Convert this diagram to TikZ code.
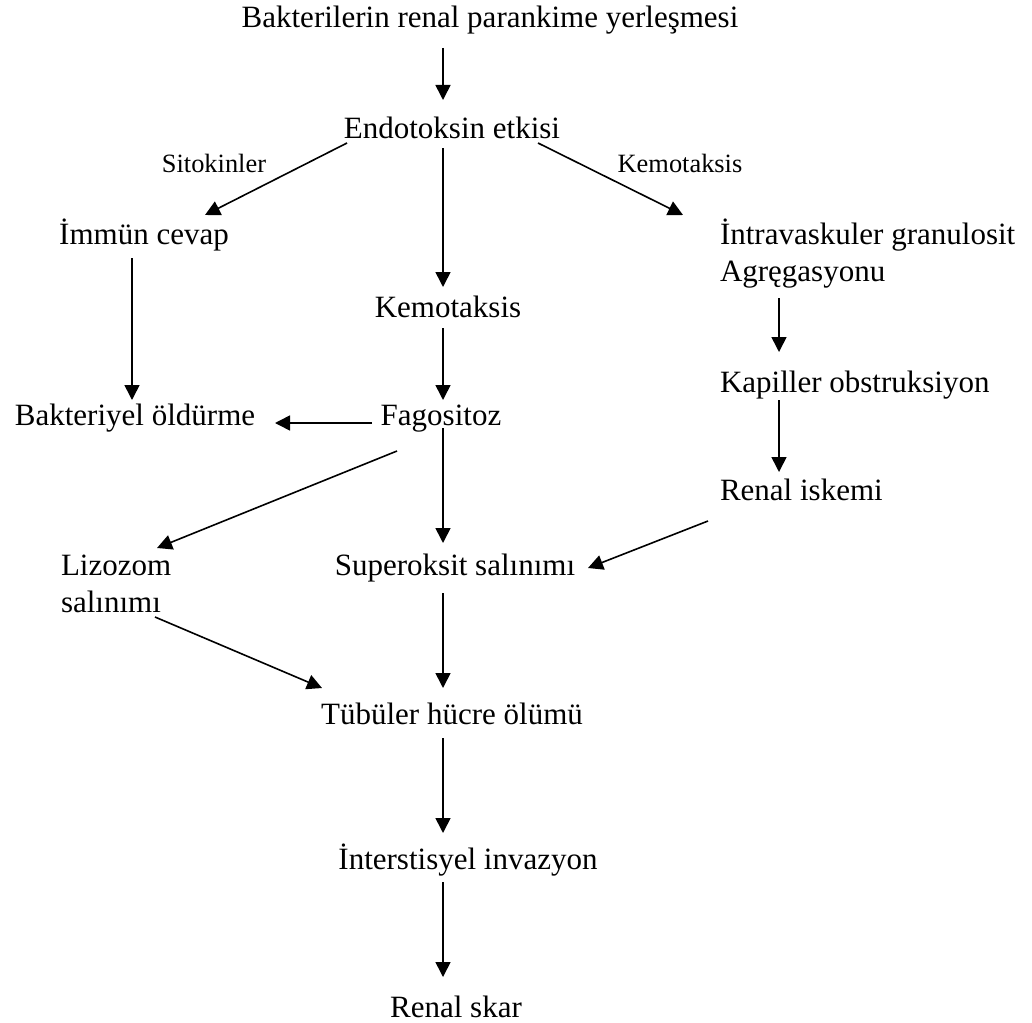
\documentclass[tikz,border=0pt]{standalone}
\usepackage{fontspec}
\setmainfont{Liberation Serif}
\usetikzlibrary{arrows.meta}
\newcommand\mainsize{\fontsize{31}{37.5}\selectfont}
\newcommand\lblsize{\fontsize{26.4}{31}\selectfont}
\tikzset{
  txt/.style={font=\mainsize, inner sep=0pt, outer sep=0pt, anchor=base},
  txtw/.style={txt, anchor=base west},
  lbl/.style={font=\lblsize, inner sep=0pt, outer sep=0pt, anchor=base},
  arr/.style={line width=1.6pt, -{Triangle[length=15pt,width=15pt]}}
}
\begin{document}
\begin{tikzpicture}[x=1pt,y=-1pt]
\useasboundingbox (0,0) rectangle (1032,1022);
% nodes
\node[txt]  (bak)   at (490,28)  {Bakterilerin renal parankime yerleşmesi};
\node[txt]  (endo)  at (452,138) {Endotoksin etkisi};
\node[lbl]  (sito)  at (214,172) {Sitokinler};
\node[lbl]  (kemol) at (680,172) {Kemotaksis};
\node[txt]  (immun) at (144,244) {İmmün cevap};
\node[txtw] (intra) at (720,244) {\vtop{\hbox{İntravaskuler granulosit}\hbox{Agręgasyonu}}};
\node[txt]  (kemo)  at (448,317) {Kemotaksis};
\node[txtw] (kap)   at (720,392) {Kapiller obstruksiyon};
\node[txt]  (fago)  at (441,425) {Fagositoz};
\node[txt]  (bakt)  at (135,425) {Bakteriyel öldürme};
\node[txtw] (ren)   at (720,500) {Renal iskemi};
\node[txtw] (liz)   at (61,575)  {\vtop{\hbox{Lizozom}\hbox{salınımı}}};
\node[txt]  (sup)   at (455,575) {Superoksit salınımı};
\node[txt]  (tub)   at (452,724) {Tübüler hücre ölümü};
\node[txt]  (int)   at (468,869) {İnterstisyel invazyon};
\node[txt]  (skar)  at (456,1017) {Renal skar};
% connectors
\draw[arr] ([shift={(-47,20)}]bak.base)   -- ([shift={(-9,-38)}]endo.base);
\draw[arr] ([shift={(-105,5)}]endo.base)  -- ([shift={(61,-29)}]immun.base);
\draw[arr] ([shift={(86,5)}]endo.base)    -- ([shift={(-37,-29)}]intra.base west);
\draw[arr] ([shift={(-9,10)}]endo.base)   -- ([shift={(-5,-30)}]kemo.base);
\draw[arr] ([shift={(-5,11)}]kemo.base)   -- ([shift={(2,-25)}]fago.base);
\draw[arr] ([shift={(-12,14)}]immun.base) -- ([shift={(-3,-25)}]bakt.base);
\draw[arr] ([shift={(-69,-2)}]fago.base)  -- ([shift={(140,-2)}]bakt.base);
\draw[arr] ([shift={(59,54)}]intra.base west) -- ([shift={(59,-40)}]kap.base west);
\draw[arr] ([shift={(59,8)}]kap.base west)    -- ([shift={(59,-28)}]ren.base west);
\draw[arr] ([shift={(-44,26)}]fago.base)  -- ([shift={(96,-27)}]liz.base west);
\draw[arr] ([shift={(2,3)}]fago.base)     -- ([shift={(-12,-32)}]sup.base);
\draw[arr] ([shift={(-12,21)}]ren.base west) -- ([shift={(133,-7)}]sup.base);
\draw[arr] ([shift={(-12,18)}]sup.base)   -- ([shift={(-9,-36)}]tub.base);
\draw[arr] ([shift={(94,42)}]liz.base west) -- ([shift={(-130,-36)}]tub.base);
\draw[arr] ([shift={(-9,14)}]tub.base)    -- ([shift={(-25,-36)}]int.base);
\draw[arr] ([shift={(-25,13)}]int.base)   -- ([shift={(-13,-40)}]skar.base);
\end{tikzpicture}
\end{document}
